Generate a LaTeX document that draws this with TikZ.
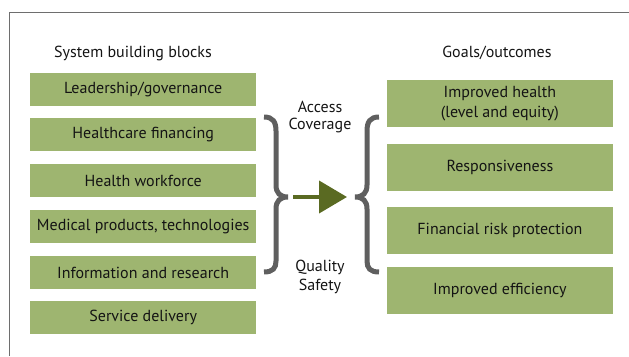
\documentclass[tikz,border=0pt]{standalone}
\usepackage{fontspec}
\setmainfont{PT Sans}
\usetikzlibrary{arrows.meta}
\definecolor{boxgreen}{RGB}{158,181,112}
\definecolor{arrowgreen}{RGB}{90,106,34}
\definecolor{bracegray}{RGB}{95,95,95}
\definecolor{framegray}{RGB}{110,110,110}
\definecolor{txt}{RGB}{20,20,20}
\begin{document}
\begin{tikzpicture}[x=1pt,y=-1pt,
  every node/.style={font=\fontsize{16}{19.5}\selectfont, text=txt, inner sep=0pt},
  lbox/.style={fill=boxgreen, minimum width=226pt, minimum height=33pt, anchor=north west, align=center},
  rbox/.style={fill=boxgreen, minimum width=226pt, minimum height=46.5pt, anchor=north west, align=center},
  bracestyle/.style={draw=bracegray, line width=5pt, line cap=butt},
  head/.style={font=\fontsize{16}{19.5}\selectfont}]
\useasboundingbox (0,0) rectangle (629,356);
\draw[framegray, line width=1.5pt] (9.3,356) -- (9.3,12.7) -- (629,12.7);

\node[head] (h1) at (133,53) {System building blocks};
\node[head] (h2) at (497,53) {Goals/outcomes};

\node[lbox] (l1) at (30,72.7) {Leadership/governance};
\node[lbox] (l2) at (30,117.7) {Healthcare financing};
\node[lbox] (l3) at (30,164) {Health workforce};
\node[lbox] (l4) at (30,210) {Medical products, technologies};
\node[lbox] (l5) at (30,256) {Information and research};
\node[lbox] (l6) at (30,301) {Service delivery};

\node[rbox] (r1) at (386.7,80) {Improved health\\(level and equity)};
\node[rbox] (r2) at (386.7,144) {Responsiveness};
\node[rbox] (r3) at (386.7,207) {Financial risk protection};
\node[rbox] (r4) at (386.7,267) {Improved efficiency};

\node (acc) at (320,107) {Access};
\node (cov) at (320,125.5) {Coverage};
\node (qua) at (320,267) {Quality};
\node (saf) at (320,286) {Safety};

% left brace
\draw[bracestyle] (264,117) .. controls (273,117) and (276,122) .. (276,131)
  -- (276,185) .. controls (276,193) and (280,197) .. (288,197)
  .. controls (280,197) and (276,201) .. (276,209)
  -- (276,261) .. controls (276,268) and (273,272) .. (264,272);
% right brace
\draw[bracestyle] (379,117) .. controls (370,117) and (367,122) .. (367,131)
  -- (367,185) .. controls (367,193) and (363,197) .. (355,197)
  .. controls (363,197) and (367,201) .. (367,209)
  -- (367,261) .. controls (367,268) and (370,272) .. (379,272);

\coordinate (as) at (293,197);
\coordinate (ae) at (347,197);
\draw[arrowgreen, line width=4pt, -{Triangle[length=28pt,width=32pt]}] (as) -- (ae);
\end{tikzpicture}
\end{document}
